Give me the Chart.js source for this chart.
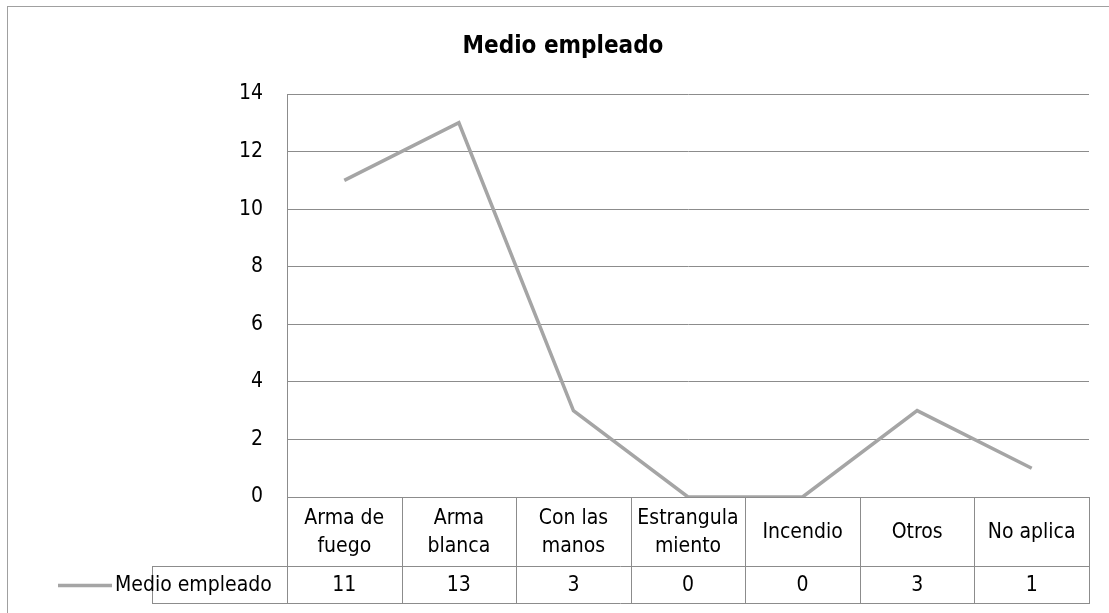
<!DOCTYPE html>
<html>
<head>
<meta charset="utf-8">
<script src="https://cdn.jsdelivr.net/npm/chart.js@4"></script>
<style>
  html, body { margin: 0; padding: 0; background: #fff; }
  canvas { display: block; }
</style>
</head>
<body>
<canvas id="grafico" width="1109" height="613"></canvas>
<script>
const titulo = "Medio empleado";
const serie = "Medio empleado";
const categorias = ["Arma de fuego", "Arma blanca", "Con las manos", "Estrangulamiento", "Incendio", "Otros", "No aplica"];
// como se parten las etiquetas en la tabla
const etiquetas = [["Arma de", "fuego"], ["Arma", "blanca"], ["Con las", "manos"], ["Estrangula", "miento"], ["Incendio"], ["Otros"], ["No aplica"]];
const valores = [11, 13, 3, 0, 0, 3, 1];
const ticksY = [0, 2, 4, 6, 8, 10, 12, 14];

const fuente = "'DejaVu Sans Condensed', 'Liberation Sans Narrow', 'Arial Narrow', sans-serif";
const gris = "#a5a5a5";
const lineas = "#8c8c8c";

Chart.defaults.font.family = fuente;
Chart.defaults.color = "#000";

// marco, titulo y tabla de datos debajo del grafico
const tablaPlugin = {
  id: "tabla",
  beforeDraw(chart) {
    const ctx = chart.ctx;
    ctx.save();
    ctx.strokeStyle = "#a0a0a0";
    ctx.lineWidth = 1;
    ctx.strokeRect(7.5, 6.5, chart.width + 20, chart.height + 20);
    ctx.fillStyle = "#000";
    ctx.font = "bold 24px " + fuente;
    ctx.textAlign = "center";
    ctx.textBaseline = "middle";
    ctx.fillText(titulo, 563, 47);
    ctx.restore();
  },
  afterDraw(chart) {
    const { ctx, chartArea: a, scales: { x } } = chart;
    const n = categorias.length;
    const ancho = (a.right - a.left) / n;
    const fila1 = a.bottom + 69;
    const fila2 = fila1 + 37;
    const izq = 152;

    ctx.save();
    ctx.strokeStyle = lineas;
    ctx.lineWidth = 1;
    ctx.beginPath();
    // lineas horizontales
    ctx.moveTo(izq, fila1 + 0.5); ctx.lineTo(a.right, fila1 + 0.5);
    ctx.moveTo(izq, fila2 + 0.5); ctx.lineTo(a.right, fila2 + 0.5);
    ctx.moveTo(a.left, a.bottom + 0.5); ctx.lineTo(a.right, a.bottom + 0.5);
    // lineas verticales
    for (let i = 0; i <= n; i++) {
      const px = Math.round(a.left + i * ancho) + 0.5;
      ctx.moveTo(px, a.bottom); ctx.lineTo(px, fila2 + 1);
    }
    ctx.moveTo(izq + 0.5, fila1); ctx.lineTo(izq + 0.5, fila2 + 1);
    ctx.stroke();

    ctx.fillStyle = "#000";
    ctx.font = "21px " + fuente;
    ctx.textAlign = "center";
    ctx.textBaseline = "middle";
    etiquetas.forEach((lin, i) => {
      const cx = x.getPixelForValue(i);
      const medio = (a.bottom + fila1) / 2 + 1;
      const alto = 28;
      lin.forEach((t, j) => {
        ctx.fillText(t, cx, medio + (j - (lin.length - 1) / 2) * alto);
      });
      ctx.fillText(String(valores[i]), cx, (fila1 + fila2) / 2 + 1);
    });

    // leyenda de la serie
    const ly = Math.round((fila1 + fila2) / 2) + 0.5;
    ctx.strokeStyle = gris;
    ctx.lineWidth = 3.5;
    ctx.beginPath();
    ctx.moveTo(58, ly); ctx.lineTo(112, ly);
    ctx.stroke();
    ctx.textAlign = "left";
    ctx.fillText(serie, 115, (fila1 + fila2) / 2 + 1);
    ctx.restore();
  }
};

new Chart(document.getElementById("grafico"), {
  type: "line",
  data: {
    labels: categorias,
    datasets: [
      {
        label: serie,
        data: valores,
        borderColor: gris,
        borderWidth: 3.5,
        pointRadius: 0,
        tension: 0,
        fill: false,
      },
    ],
  },
  options: {
    responsive: false,
    animation: false,
    layout: { padding: { left: 0, top: 94, right: 20, bottom: 116 } },
    plugins: {
      legend: { display: false },
      title: { display: false },
      tooltip: { enabled: false },
    },
    scales: {
      x: {
        type: "category",
        offset: true,
        display: false,
      },
      y: {
        min: 0,
        max: 14,
        afterFit: (scale) => { scale.width = 287; },
        afterBuildTicks: (scale) => { scale.ticks = ticksY.map((v) => ({ value: v })); },
        ticks: { font: { size: 21 }, padding: 24, color: "#000" },
        grid: { color: lineas, drawTicks: false, lineWidth: 1 },
        border: { display: true, color: lineas },
      },
    },
  },
  plugins: [tablaPlugin],
});
</script>
</body>
</html>
